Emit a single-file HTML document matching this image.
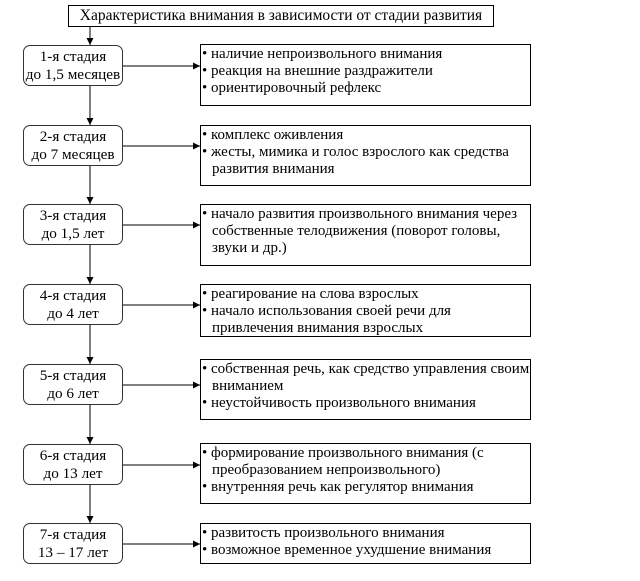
<!DOCTYPE html>
<html><head><meta charset="utf-8"><style>
body{margin:0;background:#fff;width:640px;height:581px;position:relative;overflow:hidden;font-family:"Liberation Serif",serif;font-size:15px;color:#000}
.b{position:absolute;border:1px solid #000;box-sizing:border-box;background:#fff}
.s{border-radius:7px;text-align:center;line-height:18px;padding-top:2px;border-color:#333;font-size:15.2px;white-space:nowrap}
.r{padding:1px 0 0 1px;line-height:17px;white-space:nowrap}
.r p{margin:0}
.i{padding-left:10px}
svg{position:absolute;left:0;top:0}
</style></head><body>
<svg width="640" height="581">
<defs><marker id="a" markerWidth="8" markerHeight="8" refX="7" refY="4" orient="auto" markerUnits="userSpaceOnUse"><path d="M0,0.5 L7,4 L0,7.5z" fill="#000"/></marker></defs>
<g stroke="#000" stroke-width="1">
<line x1="90" y1="26" x2="90" y2="45" marker-end="url(#a)"/>
<line x1="90" y1="86" x2="90" y2="125" marker-end="url(#a)"/>
<line x1="90" y1="166" x2="90" y2="204" marker-end="url(#a)"/>
<line x1="90" y1="245" x2="90" y2="284" marker-end="url(#a)"/>
<line x1="90" y1="325" x2="90" y2="364" marker-end="url(#a)"/>
<line x1="90" y1="405" x2="90" y2="444" marker-end="url(#a)"/>
<line x1="90" y1="485" x2="90" y2="523" marker-end="url(#a)"/>
<line x1="123" y1="66" x2="200" y2="66" marker-end="url(#a)"/>
<line x1="123" y1="146" x2="200" y2="146" marker-end="url(#a)"/>
<line x1="123" y1="225" x2="200" y2="225" marker-end="url(#a)"/>
<line x1="123" y1="305" x2="200" y2="305" marker-end="url(#a)"/>
<line x1="123" y1="385" x2="200" y2="385" marker-end="url(#a)"/>
<line x1="123" y1="465" x2="200" y2="465" marker-end="url(#a)"/>
<line x1="123" y1="544" x2="200" y2="544" marker-end="url(#a)"/>
</g></svg>
<div class="b" style="left:68px;top:5px;width:426px;height:22px;text-align:center;line-height:20px;font-size:15.5px">Характеристика внимания в зависимости от стадии развития</div>

<div class="b s" style="left:23px;top:45px;width:100px;height:41px">1-я стадия<br>до 1,5 месяцев</div>
<div class="b s" style="left:23px;top:125px;width:100px;height:41px">2-я стадия<br>до 7 месяцев</div>
<div class="b s" style="left:23px;top:204px;width:100px;height:41px">3-я стадия<br>до 1,5 лет</div>
<div class="b s" style="left:23px;top:284px;width:100px;height:41px">4-я стадия<br>до 4 лет</div>
<div class="b s" style="left:23px;top:364px;width:100px;height:41px">5-я стадия<br>до 6 лет</div>
<div class="b s" style="left:23px;top:444px;width:100px;height:41px">6-я стадия<br>до 13 лет</div>
<div class="b s" style="left:23px;top:523px;width:100px;height:41px">7-я стадия<br>13 – 17 лет</div>

<div class="b r" style="left:200px;top:44px;width:331px;height:62px"><p>• наличие непроизвольного внимания</p><p>• реакция на внешние раздражители</p><p>• ориентировочный рефлекс</p></div>
<div class="b r" style="left:200px;top:125px;width:331px;height:61px"><p>• комплекс оживления</p><p>• жесты, мимика и голос взрослого как средства</p><p class="i">развития внимания</p></div>
<div class="b r" style="left:200px;top:204px;width:331px;height:62px"><p>• начало развития произвольного внимания через</p><p class="i">собственные телодвижения (поворот головы,</p><p class="i">звуки и др.)</p></div>
<div class="b r" style="left:200px;top:284px;width:331px;height:53px"><p>• реагирование на слова взрослых</p><p>• начало использования своей речи для</p><p class="i">привлечения внимания взрослых</p></div>
<div class="b r" style="left:200px;top:359px;width:331px;height:61px;overflow:visible"><p>• собственная речь, как средство управления своим</p><p class="i">вниманием</p><p>• неустойчивость произвольного внимания</p></div>
<div class="b r" style="left:200px;top:443px;width:331px;height:61px"><p>• формирование произвольного внимания (с</p><p class="i">преобразованием непроизвольного)</p><p>• внутренняя речь как регулятор внимания</p></div>
<div class="b r" style="left:200px;top:523px;width:331px;height:41px"><p>• развитость произвольного внимания</p><p>• возможное временное ухудшение внимания</p></div>
</body></html>
